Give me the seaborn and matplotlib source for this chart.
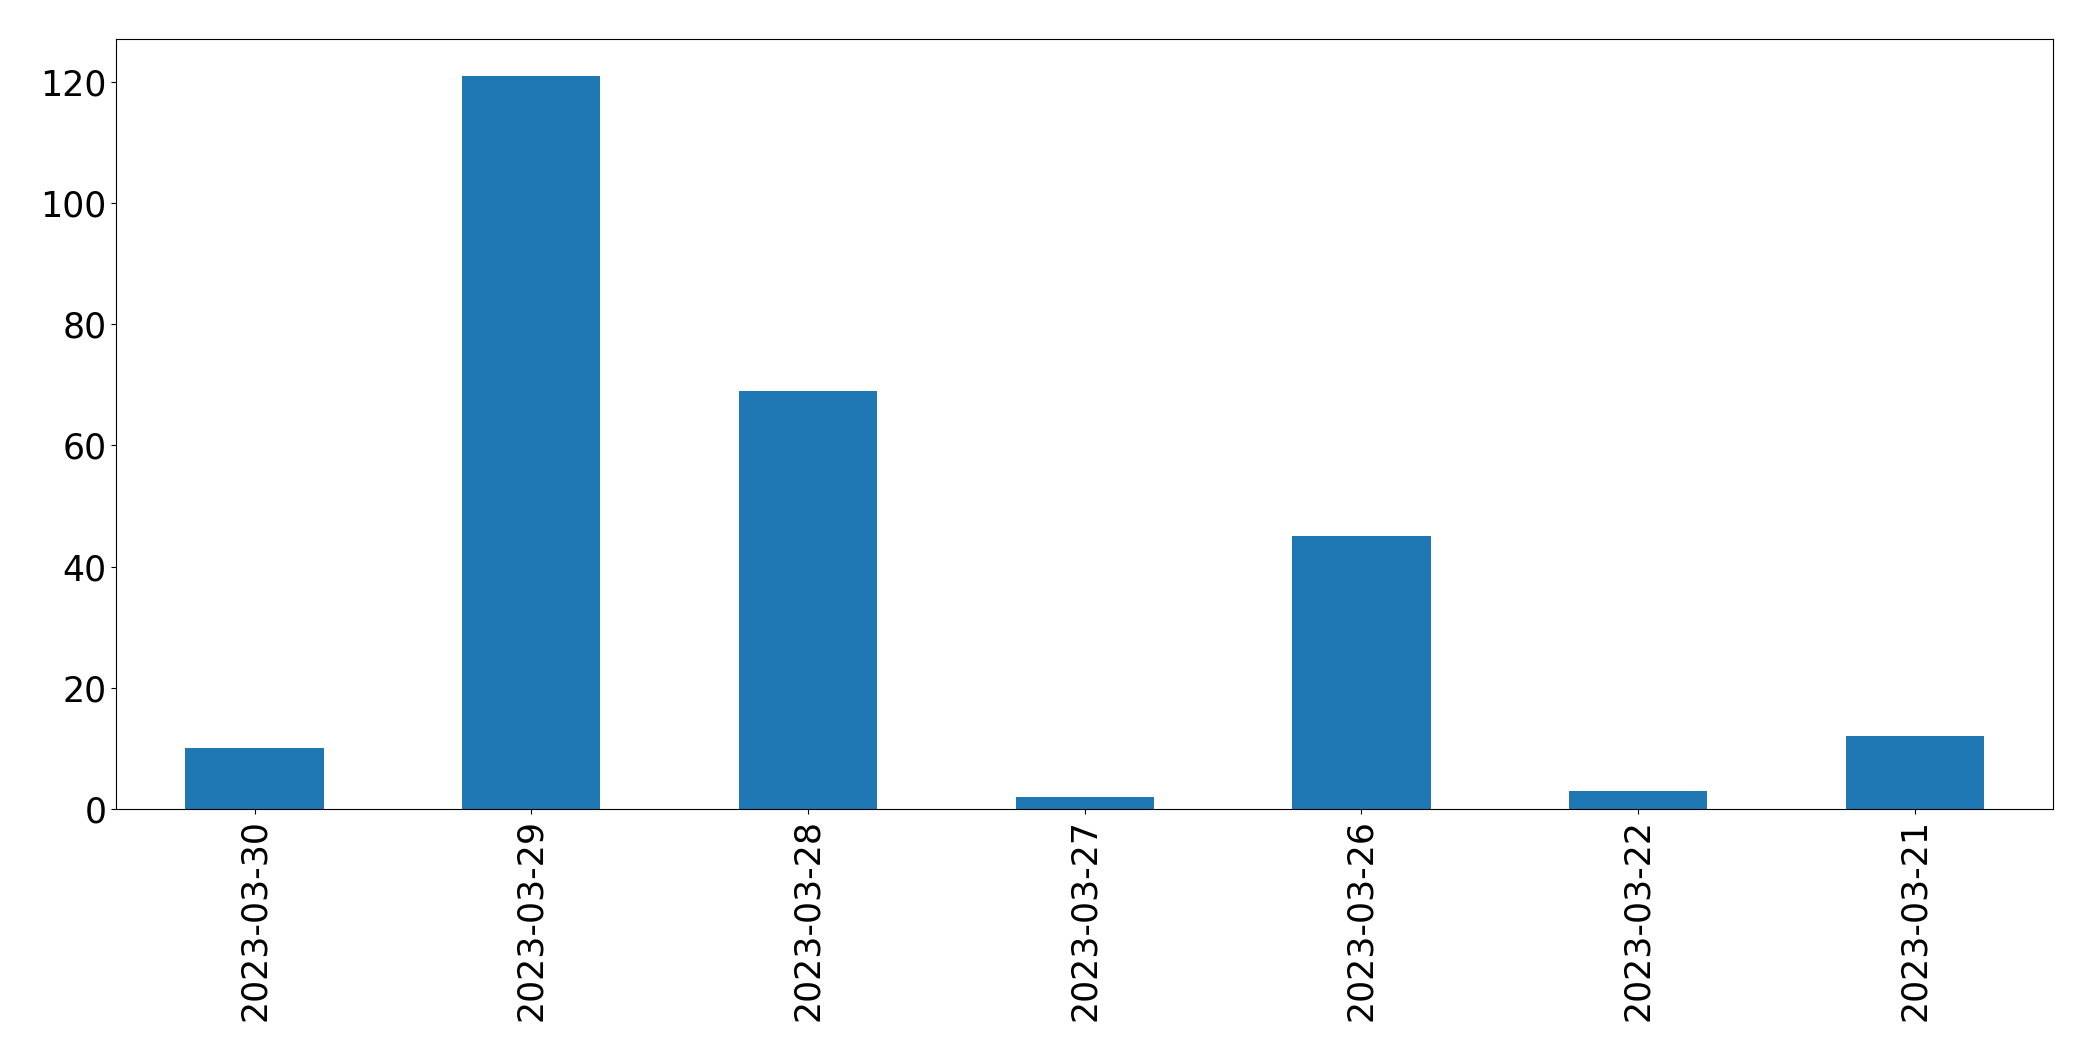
import matplotlib
matplotlib.use("Agg")
import matplotlib.pyplot as plt
import pandas as pd
import seaborn as sns

dates = ["2023-03-30", "2023-03-29", "2023-03-28", "2023-03-27",
         "2023-03-26", "2023-03-22", "2023-03-21"]
counts = [10, 121, 69, 2, 45, 3, 12]

df = pd.DataFrame({"date": dates, "count": counts})

fig = plt.figure(figsize=(20.93, 10.61), dpi=100)
ax = fig.add_axes([0.0555, 0.2375, 0.9255, 0.7255])

sns.barplot(data=df, x="date", y="count", order=dates,
            color="#1f77b4", saturation=1, width=0.5, ax=ax)

ax.set_xlim(-0.5, len(dates) - 0.5)
ax.set_xlabel("")
ax.set_ylabel("")
ax.tick_params(axis="x", labelrotation=90, labelsize=25)
ax.tick_params(axis="y", labelsize=25)
for s in ax.spines.values():
    s.set_color("black")

fig.savefig("out.png", dpi=100)
